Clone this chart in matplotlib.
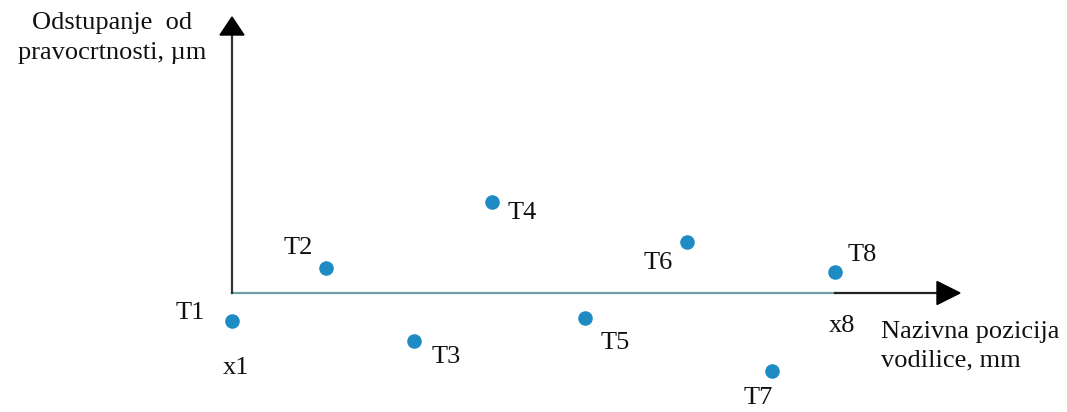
import matplotlib
matplotlib.use("Agg")
import matplotlib.pyplot as plt
from matplotlib.patches import Polygon

# Data (x: nominal position, y: straightness deviation), arbitrary units
labels = ["T1", "T2", "T3", "T4", "T5", "T6", "T7", "T8"]
x_pos = [0.0, 9.4, 18.2, 26.0, 35.3, 45.5, 54.0, 60.3]
y_dev = [-2.8, 2.5, -4.8, 9.1, -2.5, 5.1, -7.8, 2.1]
label_offsets = [(-42, 8), (-28, 20), (32, -16), (30, -11), (30, -25), (-29, -21), (-14, -27), (27, 17)]

plt.rcParams['font.family'] = ['Liberation Serif', 'DejaVu Serif']

fig = plt.figure(figsize=(10.67, 4.12), dpi=100)
ax = fig.add_axes([0, 0, 1, 1])
ax.set_xlim(-23.2, 83.5)
ax.set_ylim(-11.9, 29.3)
ax.axis('off')

x_end = 72.8
y_top = 27.6
fs = 19

# horizontal axis
ax.plot([0, x_pos[-1]], [0, 0], color="#6f9ea8", lw=1.6, zorder=1)
ax.plot([x_pos[-1], x_end - 2.0], [0, 0], color="#222222", lw=1.6, zorder=1)
ax.add_patch(Polygon([[x_end - 2.3, 1.15], [x_end - 2.3, -1.15], [x_end, 0]],
                     closed=True, color="black", zorder=2))
# vertical axis
ax.plot([0, 0], [0, y_top - 1.5], color="#333333", lw=1.6, zorder=1)
ax.add_patch(Polygon([[-1.2, y_top - 1.8], [1.2, y_top - 1.8], [0, y_top]],
                     closed=True, color="black", zorder=2))

ax.scatter(x_pos, y_dev, s=110, color="#1f8bc4", zorder=3, linewidths=0)

for lab, xv, yv, off in zip(labels, x_pos, y_dev, label_offsets):
    ax.annotate(lab, (xv, yv), xytext=off, textcoords='offset pixels',
                ha='center', va='center', fontsize=fs, color="#111111")

ax.annotate("x1", (x_pos[0], 0), xytext=(4, -75), textcoords='offset pixels',
            ha='center', va='center', fontsize=fs, color="#111111")
ax.annotate("x8", (x_pos[-1], 0), xytext=(7, -33), textcoords='offset pixels',
            ha='center', va='center', fontsize=fs, color="#111111")

ax.text(-12.0, 25.5, "Odstupanje  od\npravocrtnosti, µm", ha='center', va='center',
        fontsize=fs, color="#111111", linespacing=1.42)
ax.text(64.9, -5.3, "Nazivna pozicija\nvodilice, mm", ha='left', va='center',
        fontsize=fs, color="#111111", linespacing=1.38)

fig.savefig("out.png", dpi=100)
